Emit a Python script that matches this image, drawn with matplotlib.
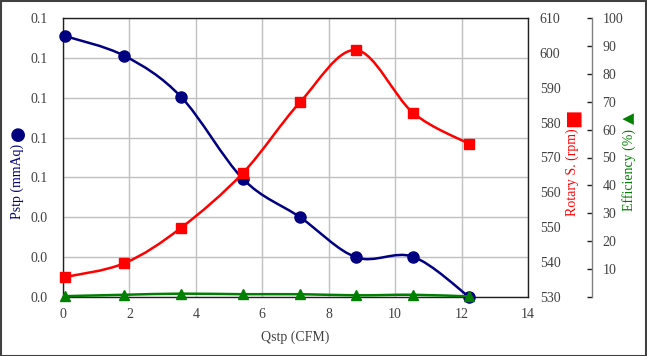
import numpy as np
import matplotlib
matplotlib.use("Agg")
import matplotlib.pyplot as plt
from matplotlib.path import Path
from matplotlib.patches import PathPatch, Rectangle
from matplotlib.ticker import FormatStrFormatter, FixedLocator, FuncFormatter

plt.rcParams['font.family'] = ['Liberation Serif', 'DejaVu Sans']

# ---- data ----
qstp = [0.05, 1.85, 3.55, 5.42, 7.14, 8.83, 10.54, 12.23]
pstp = [0.131, 0.121, 0.1005, 0.0592, 0.040, 0.0199, 0.0202, 0.0]
rpm = [535.7, 539.7, 549.8, 565.6, 585.9, 600.8, 582.8, 573.9]
eff = [0.3, 0.8, 1.2, 1.0, 1.0, 0.6, 0.8, 0.2]

x_ticks = [0, 2, 4, 6, 8, 10, 12, 14]
p_ticks = [0, 0.02, 0.04, 0.06, 0.08, 0.10, 0.12, 0.14]
r_ticks = [530, 540, 550, 560, 570, 580, 590, 600, 610]
e_ticks = [0, 10, 20, 30, 40, 50, 60, 70, 80, 90, 100]

BLUE = '#000080'
RED = '#FF0000'
GREEN = '#008000'
TXT = '#404040'


def smooth_path(xs, ys):
    pts = np.column_stack([xs, ys]).astype(float)
    n = len(pts)
    verts = [pts[0]]
    codes = [Path.MOVETO]
    for i in range(n - 1):
        p0 = pts[i - 1] if i > 0 else pts[i]
        p1 = pts[i]
        p2 = pts[i + 1]
        p3 = pts[i + 2] if i + 2 < n else pts[i + 1]
        c1 = p1 + (p2 - p0) / 6.0
        c2 = p2 - (p3 - p1) / 6.0
        verts += [c1, c2, p2]
        codes += [Path.CURVE4] * 3
    return Path(verts, codes)


W, H = 647, 356
fig = plt.figure(figsize=(W / 100, H / 100), dpi=100)
fig.patch.set_facecolor('white')

L, R, T, B = 63, 528, 18, 297
ax = fig.add_axes([L / W, (H - B) / H, (R - L) / W, (B - T) / H])
ax.set_xlim(0, 14)
ax.set_ylim(0, 0.14)
ax.set_xticks(x_ticks)
ax.set_yticks(p_ticks)
ax.yaxis.set_major_formatter(FormatStrFormatter('%.1f'))
ax.grid(True, color='#c0c0c0', linewidth=1.0)
ax.set_axisbelow(True)
ax.tick_params(axis='both', length=0, labelsize=10, labelcolor=TXT)
ax.tick_params(axis='y', pad=11)
ax.tick_params(axis='x', pad=8)
for s in ax.spines.values():
    s.set_color('#202020')
    s.set_linewidth(1.0)

# blue
ax.add_patch(PathPatch(smooth_path(qstp, pstp), facecolor='none', edgecolor=BLUE,
                       linewidth=1.8, zorder=3))
ax.plot(qstp, pstp, linestyle='none', marker='o', markersize=8, color=BLUE,
        clip_on=False, zorder=4)

# red
ax2 = ax.twinx()
ax2.set_ylim(530, 610)
ax2.set_yticks(r_ticks)
ax2.tick_params(axis='y', length=0, pad=8.5, labelsize=10, labelcolor=TXT)
for s in ax2.spines.values():
    s.set_visible(False)
ax2.add_patch(PathPatch(smooth_path(qstp, rpm), facecolor='none', edgecolor=RED,
                        linewidth=1.8, zorder=3))
ax2.plot(qstp, rpm, linestyle='none', marker='s', markersize=7.5, color=RED,
         clip_on=False, zorder=4)

# green
ax3 = ax.twinx()
ax3.set_ylim(0, 100)
ax3.spines['right'].set_position(('axes', (592 - L) / (R - L)))
ax3.spines['right'].set_color('#808080')
ax3.spines['right'].set_linewidth(1.0)
for k in ['left', 'top', 'bottom']:
    ax3.spines[k].set_visible(False)
ax3.yaxis.set_major_locator(FixedLocator(e_ticks))
ax3.yaxis.set_major_formatter(FuncFormatter(lambda v, p: '' if v == 0 else '%d' % v))
ax3.tick_params(axis='y', direction='in', length=3.5, width=1.0, color='#202020',
                pad=7.5, labelsize=10, labelcolor=TXT)
ax3.add_patch(PathPatch(smooth_path(qstp, eff), facecolor='none', edgecolor=GREEN,
                        linewidth=1.8, zorder=3))
ax3.plot(qstp, eff, linestyle='none', marker='^', markersize=7.5, color=GREEN,
         clip_on=False, zorder=4)

# axis titles
fig.text(295 / W, (H - 337) / H, 'Qstp (CFM)', ha='center', va='center',
         fontsize=10, color=TXT)
fig.text(17.5 / W, (H - 181) / H, 'Pstp (mmAq)', rotation=90, ha='center',
         va='center', fontsize=10, color=BLUE)
fig.text(17.5 / W, (H - 133) / H, '●', rotation=90, ha='center', va='center',
         fontsize=13, color=BLUE, family=['DejaVu Sans'])
fig.text(572 / W, (H - 172) / H, 'Rotary S. (rpm)', rotation=90, ha='center',
         va='center', fontsize=10, color=RED)
fig.text(572 / W, (H - 118) / H, '■', rotation=90, ha='center', va='center',
         fontsize=14, color=RED, family=['DejaVu Sans'])
fig.text(629 / W, (H - 170) / H, 'Efficiency (%)', rotation=90, ha='center',
         va='center', fontsize=10, color=GREEN)
fig.text(629 / W, (H - 118) / H, '▲', rotation=90, ha='center', va='center',
         fontsize=11, color=GREEN, family=['DejaVu Sans'])

# frame
fig.add_artist(Rectangle((0.5 / W, 0.5 / H), (W - 1.5) / W, (H - 1.5) / H,
                         transform=fig.transFigure, fill=False,
                         edgecolor='#404040', linewidth=1.5))

fig.savefig('out.png', dpi=100)
